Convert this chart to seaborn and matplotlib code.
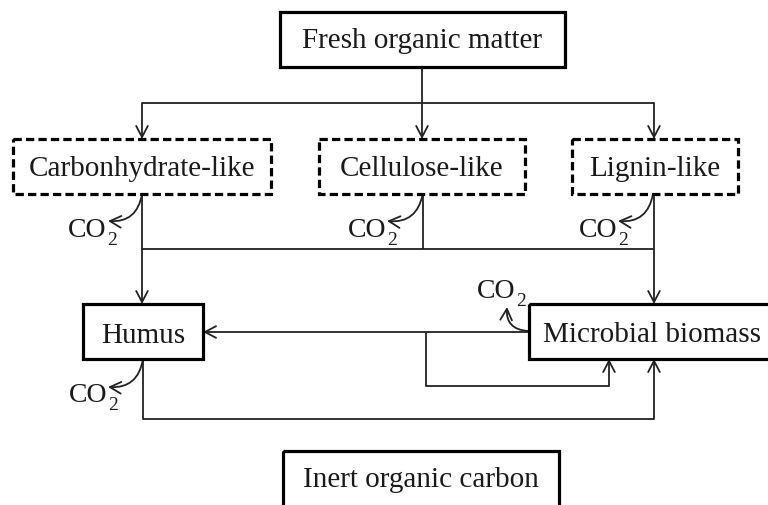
import matplotlib
matplotlib.use('Agg')
import matplotlib.pyplot as plt
import seaborn as sns
from matplotlib.patches import Rectangle, FancyArrowPatch

# carbon pools of the model
pools = ['Fresh organic matter', 'Carbonhydrate-like', 'Cellulose-like',
         'Lignin-like', 'Humus', 'Microbial biomass', 'Inert organic carbon']
# fractions of the fresh matter (dashed outline)
fractions = ['Carbonhydrate-like', 'Cellulose-like', 'Lignin-like']
# pools that lose carbon as CO2
respiring = ['Carbonhydrate-like', 'Cellulose-like', 'Lignin-like', 'Humus', 'Microbial biomass']
co2_main = 'CO'
co2_sub = '2'

# ---- layout (pixels, y from the top) ----
box = {
    'Fresh organic matter': (280, 12, 565, 67),
    'Carbonhydrate-like': (13, 139, 271, 194),
    'Cellulose-like': (319, 139, 525, 194),
    'Lignin-like': (572, 139, 738, 194),
    'Humus': (83, 304, 203, 359),
    'Microbial biomass': (529, 304, 780, 359),
    'Inert organic carbon': (283, 451, 559, 508),
}
text_pos = {
    'Fresh organic matter': (422, 48),
    'Carbonhydrate-like': (142, 176),
    'Cellulose-like': (422, 176),
    'Lignin-like': (655, 176),
    'Humus': (143, 343),
    'Microbial biomass': (652, 342),
    'Inert organic carbon': (421, 487),
}

# plain connector lines
lines = [
    [(142, 103), (654, 103)],
    [(422, 67), (422, 103)],
    [(142, 194), (142, 249), (654, 249)],
    [(422.7, 194), (422.7, 249)],
    [(426, 332), (426, 386), (609, 386)],
    [(143, 359), (143, 419), (654, 419)],
]
# arrow segments
arrows = [
    ((142, 103), (142, 139)),
    ((422, 103), (422, 139)),
    ((654, 103), (654, 139)),
    ((142, 249), (142, 304)),
    ((654, 194), (654, 304)),
    ((529, 332), (203, 332)),
    ((609, 386), (609, 359)),
    ((654, 419), (654, 359)),
]
# CO2 release: start, end, curvature, text right edge / baseline
co2 = {
    'Carbonhydrate-like': ((142, 194), (108, 221), -0.45, (106, 237)),
    'Cellulose-like': ((422.7, 194), (387, 221), -0.45, (386, 237)),
    'Lignin-like': ((653, 194), (618, 221), -0.45, (617, 237)),
    'Humus': ((143, 359), (108, 387), -0.45, (107, 402)),
    'Microbial biomass': ((528, 331), (507, 307), -0.5, (515, 298)),
}

sns.set_theme(style='white')
plt.rcParams['font.family'] = ['Liberation Serif', 'DejaVu Serif']

fig = plt.figure(figsize=(7.68, 5.05), dpi=100)
ax = fig.add_axes([0, 0, 1, 1])
ax.set_xlim(0, 768)
ax.set_ylim(505, 0)
ax.axis('off')

ink = '#1a1a1a'

for name in pools:
    x0, y0, x1, y1 = box[name]
    if name in fractions:
        ls = (0, (2.6, 1.3))
    else:
        ls = '-'
    ax.add_patch(Rectangle((x0, y0), x1 - x0, y1 - y0, fill=False,
                           edgecolor='black', lw=2.3, linestyle=ls,
                           joinstyle='miter', zorder=3))
    tx, ty = text_pos[name]
    ax.text(tx, ty, name, ha='center', va='baseline', fontsize=21, color=ink, zorder=4)

for pts in lines:
    ax.plot([p[0] for p in pts], [p[1] for p in pts], color='#222222', lw=1.3,
            solid_capstyle='butt', zorder=2)

for a, b in arrows:
    ax.add_patch(FancyArrowPatch(a, b, arrowstyle='->,head_length=0.8,head_width=0.42',
                                 mutation_scale=10, color='#222222', lw=1.3,
                                 shrinkA=0, shrinkB=0, zorder=2))

for name in respiring:
    a, b, rad, (tx, ty) = co2[name]
    ax.add_patch(FancyArrowPatch(a, b, arrowstyle='->,head_length=0.8,head_width=0.42',
                                 connectionstyle=f'arc3,rad={rad}',
                                 mutation_scale=10, color='#222222', lw=1.3,
                                 shrinkA=0, shrinkB=0, zorder=2))
    ax.text(tx, ty, co2_main, ha='right', va='baseline', fontsize=20, color=ink)
    ax.text(tx + 1, ty + 8, co2_sub, ha='left', va='baseline', fontsize=14, color=ink)

fig.savefig('out.png', dpi=100)
